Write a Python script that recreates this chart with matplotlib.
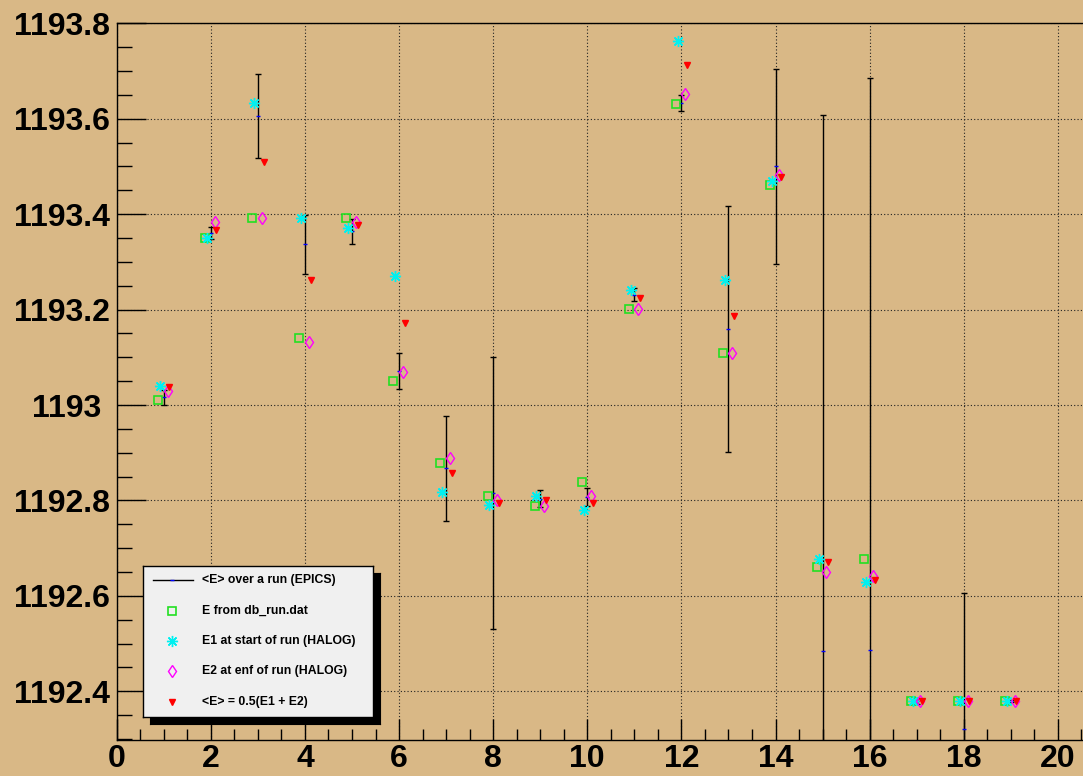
import matplotlib
matplotlib.use('Agg')
import matplotlib.pyplot as plt
import numpy as np
from matplotlib.ticker import MultipleLocator, FuncFormatter

# Run numbers
runs = np.arange(1, 20)

# E from db_run.dat
e_db = [1193.010, 1193.351, 1193.392, 1193.140, 1193.392, 1193.050, 1192.879,
        1192.809, 1192.788, 1192.839, 1193.201, 1193.631, 1193.110, 1193.461,
        1192.660, 1192.678, 1192.379, 1192.379, 1192.379]

# E1 at start of run (HALOG)
e1 = [1193.040, 1193.350, 1193.633, 1193.393, 1193.372, 1193.271, 1192.818,
      1192.790, 1192.809, 1192.779, 1193.241, 1193.762, 1193.262, 1193.470,
      1192.678, 1192.629, 1192.379, 1192.379, 1192.379]

# E2 at end of run (HALOG)
e2 = [1193.029, 1193.383, 1193.392, 1193.132, 1193.383, 1193.070, 1192.890,
      1192.800, 1192.788, 1192.809, 1193.201, 1193.652, 1193.110, 1193.483,
      1192.650, 1192.641, 1192.379, 1192.379, 1192.379]

# <E> = 0.5(E1 + E2)
e_avg = [1193.038, 1193.367, 1193.510, 1193.262, 1193.377, 1193.171, 1192.857,
         1192.795, 1192.800, 1192.795, 1193.224, 1193.713, 1193.187, 1193.478,
         1192.671, 1192.634, 1192.379, 1192.379, 1192.379]

# <E> over a run (EPICS) and its spread
epics_mean = [1193.016, 1193.360, 1193.606, 1193.337, 1193.364, 1193.071, 1192.867,
              1192.816, 1192.804, 1192.807, 1193.231, 1193.633, 1193.159, 1193.500,
              1192.485, 1192.487, 1192.379, 1192.322, 1192.379]
epics_err = [0.015, 0.013, 0.088, 0.062, 0.026, 0.038, 0.110,
             0.285, 0.018, 0.019, 0.014, 0.017, 0.258, 0.205,
             1.123, 1.198, 0.006, 0.284, 0.002]

labels = ["<E> over a run (EPICS)", "E from db_run.dat", "E1 at start of run (HALOG)",
          "E2 at enf of run (HALOG)", "<E> = 0.5(E1 + E2)"]

W, H = 1083, 776
BG = '#d9b886'

plt.rcParams['font.family'] = ['Liberation Sans', 'DejaVu Sans']
plt.rcParams['font.weight'] = 'bold'

# Marker styles (shared by the plot and the legend)
sq_style = dict(marker='s', ls='none', mfc='none', mec='#22e022', ms=6, mew=1.2)
e1_style = dict(marker=(8, 2, 0), ls='none', color='#00f0f0', ms=8, mew=1)
e2_style = dict(marker='d', ls='none', mfc='none', mec='#ff00ff', ms=6.5, mew=1)
av_style = dict(marker='v', ls='none', color='#ff0000', ms=5)

fig = plt.figure(figsize=(W / 100, H / 100), dpi=100, facecolor=BG)
ax = fig.add_axes([116.7 / W, 36 / H, 1 - 116.7 / W, 716.7 / H], facecolor=BG)

# Data
ax.errorbar(runs, epics_mean, yerr=epics_err, fmt='_', color='#0000ff', ms=3, mew=1,
            ecolor='black', elinewidth=1, capsize=2, capthick=1, zorder=3)
ax.plot(runs - 0.12, e_db, zorder=4, **sq_style)
ax.plot(runs - 0.08, e1, zorder=4, **e1_style)
ax.plot(runs + 0.08, e2, zorder=4, **e2_style)
ax.plot(runs + 0.12, e_avg, zorder=5, **av_style)


def tick_fmt(v, p):
    v = round(v, 3)
    # ROOT leaves a bit of room after whole numbers
    if v == int(v) and v > 100:
        return '%d ' % v
    return '%g' % v


# Axes config
ax.set_xlim(0, (W - 116.7) / 47.06)
ax.set_ylim(1192.298, 1193.8)
ax.xaxis.set_major_locator(MultipleLocator(2))
ax.xaxis.set_minor_locator(MultipleLocator(0.5))
ax.yaxis.set_major_locator(MultipleLocator(0.2))
ax.yaxis.set_minor_locator(MultipleLocator(0.05))
ax.xaxis.set_major_formatter(FuncFormatter(tick_fmt))
ax.yaxis.set_major_formatter(FuncFormatter(tick_fmt))

ax.tick_params(axis='x', which='major', direction='in', length=15, width=1, labelsize=23, pad=3)
ax.tick_params(axis='x', which='minor', direction='in', length=8, width=1)
ax.tick_params(axis='y', which='major', direction='in', length=21, width=1, labelsize=23, pad=5)
ax.tick_params(axis='y', which='minor', direction='in', length=11, width=1)
for lab in ax.get_xticklabels() + ax.get_yticklabels():
    lab.set_fontweight('bold')

ax.grid(True, which='major', color='#222222', lw=0.8, ls=(0, (1, 2)))
ax.set_axisbelow(True)
ax.spines['right'].set_visible(False)
for s in ['top', 'left', 'bottom']:
    ax.spines[s].set_linewidth(1)

# Legend box with a ROOT style shadow
lx0, ly0, lx1, ly1 = 143.3, 565.7, 373.3, 716.7
shadow = fig.add_axes([(lx0 + 7) / W, 1 - (ly1 + 7) / H, (lx1 - lx0) / W, (ly1 - ly0) / H],
                      facecolor='black')
shadow.set_xticks([])
shadow.set_yticks([])
leg = fig.add_axes([lx0 / W, 1 - ly1 / H, (lx1 - lx0) / W, (ly1 - ly0) / H],
                   facecolor='#f0f0f0')
leg.set_xticks([])
leg.set_yticks([])
for s in leg.spines.values():
    s.set_linewidth(1)
leg.set_xlim(0, 1)
leg.set_ylim(0, 1)

rows = [(717 - y) / 151 for y in [580, 611, 641, 671, 702.7]]
mx = 0.126
leg.plot([0.04, 0.215], [rows[0]] * 2, color='black', lw=1)
leg.plot([mx], [rows[0]], marker='_', color='#0000ff', ms=3, mew=1)
leg.plot([mx], [rows[1]], **sq_style)
leg.plot([mx], [rows[2]], **e1_style)
leg.plot([mx], [rows[3]], **e2_style)
leg.plot([mx], [rows[4]], **av_style)
for r, lab in zip(rows, labels):
    leg.text(0.255, r, lab, fontsize=8.8, fontweight='bold', va='center', ha='left')

fig.savefig('out.png', dpi=100, facecolor=BG)
